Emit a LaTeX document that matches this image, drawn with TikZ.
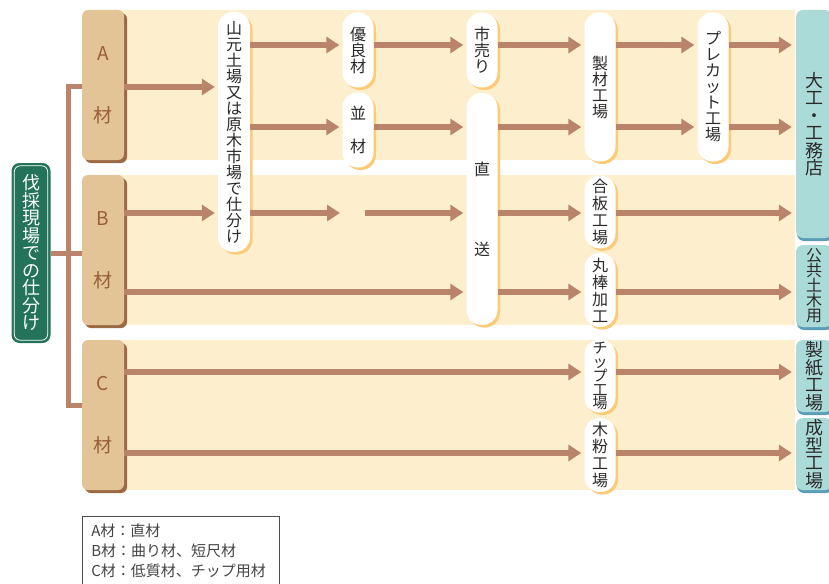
\documentclass[tikz,border=0pt]{standalone}
\usepackage{fontspec}
\setmainfont{Noto Sans CJK JP}
\usetikzlibrary{arrows.meta,shadows}
\definecolor{bandc}{HTML}{FDEFCD}
\definecolor{matc}{HTML}{E2C497}
\definecolor{matsh}{HTML}{9B6A45}
\definecolor{mattext}{HTML}{9A5E3A}
\definecolor{arrc}{HTML}{B9846A}
\definecolor{pillsh}{HTML}{FDCB77}
\definecolor{tealc}{HTML}{ABDBD8}
\definecolor{tealsh}{HTML}{5B9DB8}
\definecolor{greenc}{HTML}{23735A}
\definecolor{txt}{HTML}{2A2A2A}
\definecolor{legtxt}{HTML}{444444}
\begin{document}
\begin{tikzpicture}[x=1pt,y=-1pt,
  matbox/.style={fill=matc, rounded corners=6pt, minimum width=42pt, minimum height=150pt, inner sep=0pt,
    drop shadow={shadow xshift=3pt,shadow yshift=-3pt,fill=matsh,opacity=1},
    text=mattext, font=\fontsize{19}{20}\selectfont, align=center},
  pill/.style={fill=white, rounded corners=15pt, minimum width=31pt, inner sep=0pt, align=center,
    font=\fontsize{16}{16}\selectfont, text=txt,
    drop shadow={shadow xshift=2.5pt,shadow yshift=-2.5pt,fill=pillsh,opacity=1}},
  dest/.style={fill=tealc, rounded corners=7pt, minimum width=36pt, inner sep=0pt, align=center,
    font=\fontsize{18}{17.5}\selectfont, text=txt,
    drop shadow={shadow xshift=1pt,shadow yshift=-3pt,fill=tealsh,opacity=1}},
  arr/.style={draw=arrc, line width=5.5pt, -{Triangle[length=13pt,width=16pt]}, shorten >=3pt},
  brk/.style={draw=arrc, line width=5pt}
]
\useasboundingbox (0,0) rectangle (829,583);
% bands
\fill[bandc] (100,10) rectangle (795,160);
\fill[bandc] (100,175) rectangle (795,325);
\fill[bandc] (100,340) rectangle (795,490);

% green label
\node[fill=greenc, rounded corners=8pt, minimum width=39pt, minimum height=180pt, inner sep=0pt,
  text=white, align=center, font=\fontsize{18}{17.5}\selectfont] (lab) at (31,253)
  {伐\\採\\現\\場\\で\\の\\仕\\分\\け};
\draw[white, line width=0.8pt, rounded corners=6pt] ([shift={(3,3)}]lab.north west) rectangle ([shift={(-3,-3)}]lab.south east);

% material boxes
\node[matbox] (A) at (103,85) {A\\[42pt]材};
\node[matbox] (B) at (103,250) {B\\[42pt]材};
\node[matbox] (C) at (103,415) {C\\[42pt]材};

% bracket
\draw[brk] (A.west |- 0,87) -- (68,87) -- (68,405) -- (C.west |- 0,405);
\draw[brk] (lab.east) -- (B.west |- lab.east);

% pills
\node[pill, minimum width=32pt, minimum height=240pt] (sort) at (234,132)
  {山\\元\\土\\場\\又\\は\\原\\木\\市\\場\\で\\仕\\分\\け};
\node[pill, minimum height=75pt] (yuryo) at (358,50) {優\\良\\材};
\node[pill, minimum height=75pt] (nami) at (358,130) {並\\[17pt]材};
\node[pill, minimum height=75pt] (ichi) at (482,50) {市\\売\\り};
\node[pill, minimum height=232pt] (choku) at (482,209) {直\\[64pt]送};
\node[pill, minimum height=149pt] (seizai) at (600,87) {製\\材\\工\\場};
\node[pill, minimum height=149pt] (precut) at (713,87) {プ\\レ\\カ\\ッ\\ト\\工\\場};
\node[pill, minimum height=73pt, font=\fontsize{16}{17}\selectfont] (gouhan) at (600,212) {合\\板\\工\\場};
\node[pill, minimum height=74pt, font=\fontsize{16}{17}\selectfont] (maru) at (600,290) {丸\\棒\\加\\工};
\node[pill, minimum height=73pt, font=\fontsize{15}{13.5}\selectfont] (chip) at (600,376) {チ\\ッ\\プ\\工\\場};
\node[pill, minimum height=74pt, font=\fontsize{16}{17}\selectfont] (mokufun) at (600,455) {木\\粉\\工\\場};

% destinations
\node[dest, minimum height=228pt] (daiku) at (814,124) {大\\工\\・\\工\\務\\店};
\node[dest, minimum height=82pt, font=\fontsize{16}{15}\selectfont] (koukyou) at (814,286) {公\\共\\土\\木\\用};
\node[dest, minimum height=72pt] (seishi) at (814,376) {製\\紙\\工\\場};
\node[dest, minimum height=72pt] (seikei) at (814,454) {成\\型\\工\\場};

\coordinate (gapL) at (343,213);
\coordinate (gapR) at (365,213);

% arrows
\draw[arr] (A.east |- 0,87) -- (sort.west |- 0,87);
\draw[arr] (B.east |- 0,213) -- (sort.west |- 0,213);
\draw[arr] (B.east |- 0,292) -- (choku.west |- 0,292);
\draw[arr] (C.east |- 0,372) -- (chip.west |- 0,372);
\draw[arr] (C.east |- 0,453) -- (mokufun.west |- 0,453);

\draw[arr] (sort.east |- 0,45) -- (yuryo.west |- 0,45);
\draw[arr] (sort.east |- 0,127) -- (nami.west |- 0,127);
\draw[arr] (sort.east |- 0,213) -- (gapL);
\draw[arr] (gapR) -- (choku.west |- 0,213);

\draw[arr] (yuryo.east |- 0,45) -- (ichi.west |- 0,45);
\draw[arr] (nami.east |- 0,127) -- (choku.west |- 0,127);

\draw[arr] (ichi.east |- 0,45) -- (seizai.west |- 0,45);
\draw[arr] (choku.east |- 0,127) -- (seizai.west |- 0,127);
\draw[arr] (choku.east |- 0,213) -- (gouhan.west |- 0,213);
\draw[arr] (choku.east |- 0,292) -- (maru.west |- 0,292);

\draw[arr] (seizai.east |- 0,45) -- (precut.west |- 0,45);
\draw[arr] (seizai.east |- 0,127) -- (precut.west |- 0,127);
\draw[arr, shorten >=4pt] (precut.east |- 0,45) -- (daiku.west |- 0,45);
\draw[arr, shorten >=4pt] (precut.east |- 0,127) -- (daiku.west |- 0,127);
\draw[arr, shorten >=4pt] (gouhan.east |- 0,213) -- (daiku.west |- 0,213);
\draw[arr, shorten >=4pt] (maru.east |- 0,292) -- (koukyou.west |- 0,292);
\draw[arr, shorten >=4pt] (chip.east |- 0,372) -- (seishi.west |- 0,372);
\draw[arr, shorten >=4pt] (mokufun.east |- 0,453) -- (seikei.west |- 0,453);

% legend
\node[draw=black!70, line width=0.6pt, anchor=north west, inner xsep=9pt, inner ysep=8pt,
  text width=179pt, align=left, text=legtxt, font=\fontsize{15}{20}\selectfont] (legend) at (82,516)
  {A材：直材\\B材：曲り材、短尺材\\C材：低質材、チップ用材};
\end{tikzpicture}
\end{document}
